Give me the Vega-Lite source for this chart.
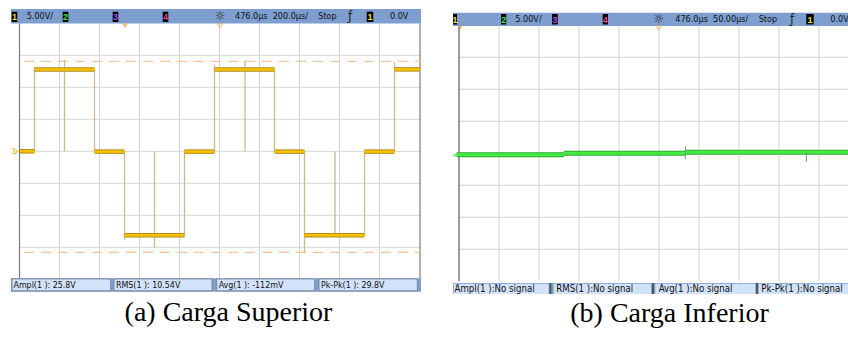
{
"$schema": "https://vega.github.io/schema/vega-lite/v6.json",
"padding": {"left": 10, "top": 9, "right": 0, "bottom": 0},
"spacing": 29,
"background": "white",
"config": {"view": {"stroke": null}},
"datasets": {
"L_bar": [{"t": -42.5, "t2": 2007.5, "v": 22.23, "v2": 19.97}, {"t": -42.5, "t2": 2007.5, "v": -19.84, "v2": -21.94}],
"L_box": [{"t": -37.5, "t2": 456, "v": -19.95, "v2": -21.8}, {"t": 472.5, "t2": 962.5, "v": -19.95, "v2": -21.8}, {"t": 986, "t2": 1476, "v": -19.95, "v2": -21.8}, {"t": 1497.5, "t2": 1989, "v": -19.95, "v2": -21.8}],
"L_vgrid": [{"t": 200, "v": 20, "v2": -20}, {"t": 400, "v": 20, "v2": -20}, {"t": 600, "v": 20, "v2": -20}, {"t": 800, "v": 20, "v2": -20}, {"t": 1000, "v": 20, "v2": -20}, {"t": 1200, "v": 20, "v2": -20}, {"t": 1400, "v": 20, "v2": -20}, {"t": 1600, "v": 20, "v2": -20}, {"t": 1800, "v": 20, "v2": -20}],
"L_hgrid": [{"t": 0, "t2": 2002.5, "v": 15}, {"t": 0, "t2": 2002.5, "v": 10}, {"t": 0, "t2": 2002.5, "v": 5}, {"t": 0, "t2": 2002.5, "v": 0}, {"t": 0, "t2": 2002.5, "v": -5}, {"t": 0, "t2": 2002.5, "v": -10}, {"t": 0, "t2": 2002.5, "v": -15}],
"L_border": [{"t": 0, "v": 20, "v2": -19.9}, {"t": 2002.5, "v": 20, "v2": -19.9}],
"L_dash": [{"t": 22.5, "t2": 2002.5, "v": 14.06}, {"t": 22.5, "t2": 2002.5, "v": -15.78}],
"L_edge": [{"t": 75, "v": 0, "v2": 13.2}, {"t": 225, "v": 0, "v2": 14.3}, {"t": 375, "v": 12.8, "v2": 0}, {"t": 525, "v": 0, "v2": -13.9}, {"t": 675, "v": 0, "v2": -15.0}, {"t": 825, "v": -13.1, "v2": 0}, {"t": 975, "v": 0, "v2": 13.5}, {"t": 1127.5, "v": 0, "v2": 14.2}, {"t": 1275, "v": 12.8, "v2": 0}, {"t": 1425, "v": 0, "v2": -15.8}, {"t": 1577.5, "v": -13.1, "v2": 0}, {"t": 1725, "v": -13.1, "v2": 0}, {"t": 1875, "v": 0, "v2": 14.0}],
"L_trace": [{"t": 2.5, "t2": 75, "v": 0}, {"t": 75, "t2": 375, "v": 12.8}, {"t": 375, "t2": 525, "v": -0.05}, {"t": 525, "t2": 825, "v": -13.1}, {"t": 825, "t2": 975, "v": -0.05}, {"t": 975, "t2": 1275, "v": 12.8}, {"t": 1275, "t2": 1425, "v": -0.05}, {"t": 1425, "t2": 1725, "v": -13.1}, {"t": 1725, "t2": 1875, "v": -0.05}, {"t": 1875, "t2": 2002, "v": 12.8}],
"L_chan": [{"t": -39, "t2": -11, "v": 21.81, "v2": 20.2}, {"t": 216, "t2": 244, "v": 21.81, "v2": 20.2}, {"t": 466, "t2": 494, "v": 21.81, "v2": 20.2}, {"t": 716, "t2": 744, "v": 21.81, "v2": 20.2}, {"t": 1736, "t2": 1769, "v": 21.81, "v2": 20.2}],
"L_chant": [{"t": -25, "v": 21.0, "s": "1", "c": "y"}, {"t": 230, "v": 21.0, "s": "2", "c": "g"}, {"t": 480, "v": 21.0, "s": "3", "c": "p"}, {"t": 730, "v": 21.0, "s": "4", "c": "r"}, {"t": 1752.5, "v": 21.0, "s": "1", "c": "y"}],
"L_top": [{"t": 36, "v": 21.1, "s": "5.00V/"}, {"t": 1077.5, "v": 21.1, "s": "476.0µs"}, {"t": 1266, "v": 21.1, "s": "200.0µs/"}, {"t": 1494, "v": 21.1, "s": "Stop"}, {"t": 1852.5, "v": 21.1, "s": "0.0V"}],
"L_sym": [{"t": 1002.5, "v": 21.1, "s": "☼"}, {"t": 1652.5, "v": 21.1, "s": "ƒ"}],
"L_bot": [{"t": -30, "v": -20.94, "s": "Ampl(1 ): 25.8V"}, {"t": 482.5, "v": -20.94, "s": "RMS(1 ): 10.54V"}, {"t": 996, "v": -20.94, "s": "Avg(1 ): -112mV"}, {"t": 1507.5, "v": -20.94, "s": "Pk-Pk(1 ): 29.8V"}],
"L_tri": [{"t": 527.5, "v": 19.6}],
"L_chev": [{"t": 1002.5, "v": 19.6}],
"L_gndt": [{"t": -26, "v": 0, "s": "1"}],
"L_gndp": [{"t": -9, "v": 0}],
"R_bar": [{"t": -7.5, "t2": 490, "v": 21.97, "v2": 19.89}, {"t": -7.5, "t2": 490, "v": -20.27, "v2": -21.98}],
"R_box": [{"t": -6.6, "t2": 112.1, "v": -20.4, "v2": -21.98}, {"t": 118.4, "t2": 240, "v": -20.4, "v2": -21.98}, {"t": 245.4, "t2": 370.4, "v": -20.4, "v2": -21.98}, {"t": 374.6, "t2": 490, "v": -20.4, "v2": -21.98}],
"R_sep": [{"t": 114.2, "v": -20.27, "v2": -21.98}, {"t": 242.5, "v": -20.27, "v2": -21.98}, {"t": 372.5, "v": -20.27, "v2": -21.98}],
"R_vgrid": [{"t": 50, "v": 20, "v2": -20}, {"t": 100, "v": 20, "v2": -20}, {"t": 150, "v": 20, "v2": -20}, {"t": 200, "v": 20, "v2": -20}, {"t": 250, "v": 20, "v2": -20}, {"t": 300, "v": 20, "v2": -20}, {"t": 350, "v": 20, "v2": -20}, {"t": 400, "v": 20, "v2": -20}, {"t": 450, "v": 20, "v2": -20}],
"R_hgrid": [{"t": 0, "t2": 490, "v": 15}, {"t": 0, "t2": 490, "v": 10}, {"t": 0, "t2": 490, "v": 5}, {"t": 0, "t2": 490, "v": 0}, {"t": 0, "t2": 490, "v": -5}, {"t": 0, "t2": 490, "v": -10}, {"t": 0, "t2": 490, "v": -15}],
"R_border": [{"t": 0, "v": 19.9, "v2": -20}],
"R_trace": [{"t": -3, "t2": 131, "v": -0.22}, {"t": 131, "t2": 283, "v": 0.0}, {"t": 283, "t2": 490, "v": 0.16}],
"R_spike": [{"t": 283, "v": 1.03, "v2": -0.89}, {"t": 434.2, "v": 0.16, "v2": -1.31}],
"R_chan": [{"t": -7.5, "t2": -2.5, "v": 21.77, "v2": 20.13}, {"t": 52.5, "t2": 59.1, "v": 21.77, "v2": 20.13}, {"t": 116.25, "t2": 123.4, "v": 21.77, "v2": 20.13}, {"t": 179.6, "t2": 186.25, "v": 21.77, "v2": 20.13}, {"t": 434.1, "t2": 443.4, "v": 21.77, "v2": 20.13}],
"R_chant": [{"t": -5, "v": 20.9, "s": "1", "c": "y"}, {"t": 55.8, "v": 20.9, "s": "2", "c": "g"}, {"t": 119.8, "v": 20.9, "s": "3", "c": "p"}, {"t": 182.9, "v": 20.9, "s": "4", "c": "r"}, {"t": 438.75, "v": 20.9, "s": "1", "c": "y"}],
"R_top": [{"t": 70.4, "v": 20.93, "s": "5.00V/"}, {"t": 270.4, "v": 20.93, "s": "476.0µs"}, {"t": 317.5, "v": 20.93, "s": "50.00µs/"}, {"t": 374.6, "v": 20.93, "s": "Stop"}, {"t": 464.1, "v": 20.93, "s": "0.0V"}],
"R_sym": [{"t": 249.6, "v": 20.93, "s": "☼"}, {"t": 416.25, "v": 20.93, "s": "ƒ"}],
"R_bot": [{"t": -5.6, "v": -21.13, "s": "Ampl(1 ):No signal"}, {"t": 121.6, "v": -21.13, "s": "RMS(1 ):No signal"}, {"t": 249.6, "v": -21.13, "s": "Avg(1 ):No signal"}, {"t": 377.9, "v": -21.13, "s": "Pk-Pk(1 ):No signal"}],
"R_tri": [{"t": 1.5, "v": 19.6}],
"R_chev": [{"t": 249.6, "v": 19.6}],
"R_gndp": [{"t": -4.5, "v": -0.3}]
},
"resolve": {"scale": {"x": "independent", "y": "independent"}},
"hconcat": [
{
"width": 411, "height": 285,
"title": {"text": "(a) Carga Superior", "orient": "bottom", "anchor": "middle", "frame": "group", "font": "Liberation Serif", "fontSize": 28, "fontWeight": "normal", "color": "#000000", "offset": 5, "dx": 13},
"encoding": {
"x": {"field": "t", "type": "quantitative", "scale": {"domain": [-47.5, 2007.5], "nice": false, "zero": false}, "axis": null},
"y": {"field": "v", "type": "quantitative", "scale": {"domain": [-22.297, 22.234], "nice": false, "zero": false}, "axis": null}
},
"layer": [
{"data": {"name": "L_vgrid"}, "mark": {"type": "rule", "color": "#d4d4d4", "strokeWidth": 1}, "encoding": {"y2": {"field": "v2"}}},
{"data": {"name": "L_hgrid"}, "mark": {"type": "rule", "color": "#d4d4d4", "strokeWidth": 1}, "encoding": {"x2": {"field": "t2"}}},
{"data": {"name": "L_border"}, "mark": {"type": "rule", "color": "#7a7a7a", "strokeWidth": 1.2}, "encoding": {"y2": {"field": "v2"}}},
{"data": {"name": "L_dash"}, "mark": {"type": "rule", "color": "#f7c49a", "strokeWidth": 1.2, "strokeDash": [10, 7]}, "encoding": {"x2": {"field": "t2"}}},
{"data": {"name": "L_edge"}, "mark": {"type": "rule", "color": "#c9bb8c", "strokeWidth": 1.3}, "encoding": {"y2": {"field": "v2"}}},
{"data": {"name": "L_trace"}, "mark": {"type": "rule", "color": "#b98c10", "strokeWidth": 4.5}, "encoding": {"x2": {"field": "t2"}}},
{"data": {"name": "L_trace"}, "mark": {"type": "rule", "color": "#f4c200", "strokeWidth": 2.5}, "encoding": {"x2": {"field": "t2"}}},
{"data": {"name": "L_bar"}, "mark": {"type": "rect", "color": "#7d9ecf"}, "encoding": {"x2": {"field": "t2"}, "y2": {"field": "v2"}}},
{"data": {"name": "L_box"}, "mark": {"type": "rect", "fill": "#d2e2f8", "stroke": "#6f7d92", "strokeWidth": 0.8}, "encoding": {"x2": {"field": "t2"}, "y2": {"field": "v2"}}},
{"data": {"name": "L_chan"}, "mark": {"type": "rect", "color": "#000000"}, "encoding": {"x2": {"field": "t2"}, "y2": {"field": "v2"}}},
{"data": {"name": "L_chant"}, "mark": {"type": "text", "font": "Liberation Sans", "fontSize": 9, "fontWeight": "bold", "align": "center", "baseline": "middle"}, "encoding": {"text": {"field": "s", "type": "nominal"}, "color": {"field": "c", "type": "nominal", "scale": {"domain": ["y", "g", "p", "r"], "range": ["#f2e21e", "#3cf03c", "#b848f0", "#f0408a"]}, "legend": null}}},
{"data": {"name": "L_top"}, "mark": {"type": "text", "font": "Liberation Sans Narrow, DejaVu Sans Condensed, Liberation Sans", "fontSize": 9, "color": "#111111", "align": "left", "baseline": "middle"}, "encoding": {"text": {"field": "s", "type": "nominal"}}},
{"data": {"name": "L_sym"}, "mark": {"type": "text", "font": "DejaVu Sans", "fontSize": 12, "color": "#222222", "align": "center", "baseline": "middle"}, "encoding": {"text": {"field": "s", "type": "nominal"}}},
{"data": {"name": "L_bot"}, "mark": {"type": "text", "font": "Liberation Sans Narrow, DejaVu Sans Condensed, Liberation Sans", "fontSize": 8.8, "color": "#111111", "align": "left", "baseline": "middle"}, "encoding": {"text": {"field": "s", "type": "nominal"}}},
{"data": {"name": "L_tri"}, "mark": {"type": "point", "shape": "triangle-down", "filled": true, "color": "#f09a30", "size": 30}},
{"data": {"name": "L_chev"}, "mark": {"type": "point", "shape": "triangle-down", "filled": false, "color": "#f0a040", "size": 25, "strokeWidth": 1}},
{"data": {"name": "L_gndt"}, "mark": {"type": "text", "font": "Liberation Sans", "fontSize": 9, "fontWeight": "bold", "color": "#f0c020", "align": "center", "baseline": "middle"}, "encoding": {"text": {"field": "s", "type": "nominal"}}},
{"data": {"name": "L_gndp"}, "mark": {"type": "point", "shape": "triangle-right", "filled": true, "color": "#f0c020", "size": 18}}
]
},
{
"width": 398, "height": 285,
"title": {"text": "(b) Carga Inferior", "orient": "bottom", "anchor": "middle", "frame": "group", "font": "Liberation Serif", "fontSize": 28, "fontWeight": "normal", "color": "#000000", "offset": 5, "dx": 17.5},
"encoding": {
"x": {"field": "t", "type": "quantitative", "scale": {"domain": [-7.5, 490], "nice": false, "zero": false}, "axis": null},
"y": {"field": "v", "type": "quantitative", "scale": {"domain": [-21.984, 22.547], "nice": false, "zero": false}, "axis": null}
},
"layer": [
{"data": {"name": "R_vgrid"}, "mark": {"type": "rule", "color": "#d4d4d4", "strokeWidth": 1}, "encoding": {"y2": {"field": "v2"}}},
{"data": {"name": "R_hgrid"}, "mark": {"type": "rule", "color": "#d4d4d4", "strokeWidth": 1}, "encoding": {"x2": {"field": "t2"}}},
{"data": {"name": "R_border"}, "mark": {"type": "rule", "color": "#9a9a9a", "strokeWidth": 2}, "encoding": {"y2": {"field": "v2"}}},
{"data": {"name": "R_trace"}, "mark": {"type": "rule", "color": "#2fa82f", "strokeWidth": 5}, "encoding": {"x2": {"field": "t2"}}},
{"data": {"name": "R_trace"}, "mark": {"type": "rule", "color": "#44ec44", "strokeWidth": 3}, "encoding": {"x2": {"field": "t2"}}},
{"data": {"name": "R_spike"}, "mark": {"type": "rule", "color": "#5aa05a", "strokeWidth": 1}, "encoding": {"y2": {"field": "v2"}}},
{"data": {"name": "R_bar"}, "mark": {"type": "rect", "color": "#7d9ecf"}, "encoding": {"x2": {"field": "t2"}, "y2": {"field": "v2"}}},
{"data": {"name": "R_box"}, "mark": {"type": "rect", "fill": "#d2e2f8"}, "encoding": {"x2": {"field": "t2"}, "y2": {"field": "v2"}}},
{"data": {"name": "R_sep"}, "mark": {"type": "rule", "color": "#555555", "strokeWidth": 2}, "encoding": {"y2": {"field": "v2"}}},
{"data": {"name": "R_chan"}, "mark": {"type": "rect", "color": "#000000"}, "encoding": {"x2": {"field": "t2"}, "y2": {"field": "v2"}}},
{"data": {"name": "R_chant"}, "mark": {"type": "text", "font": "Liberation Sans", "fontSize": 9, "fontWeight": "bold", "align": "center", "baseline": "middle"}, "encoding": {"text": {"field": "s", "type": "nominal"}, "color": {"field": "c", "type": "nominal", "scale": {"domain": ["y", "g", "p", "r"], "range": ["#f2e21e", "#3cf03c", "#b848f0", "#f0408a"]}, "legend": null}}},
{"data": {"name": "R_top"}, "mark": {"type": "text", "font": "Liberation Sans Narrow, DejaVu Sans Condensed, Liberation Sans", "fontSize": 9, "color": "#111111", "align": "left", "baseline": "middle"}, "encoding": {"text": {"field": "s", "type": "nominal"}}},
{"data": {"name": "R_sym"}, "mark": {"type": "text", "font": "DejaVu Sans", "fontSize": 12, "color": "#222222", "align": "center", "baseline": "middle"}, "encoding": {"text": {"field": "s", "type": "nominal"}}},
{"data": {"name": "R_bot"}, "mark": {"type": "text", "font": "Liberation Sans Narrow, DejaVu Sans Condensed, Liberation Sans", "fontSize": 9.6, "color": "#111111", "align": "left", "baseline": "middle"}, "encoding": {"text": {"field": "s", "type": "nominal"}}},
{"data": {"name": "R_tri"}, "mark": {"type": "point", "shape": "triangle-down", "filled": true, "color": "#f09a30", "size": 22}},
{"data": {"name": "R_chev"}, "mark": {"type": "point", "shape": "triangle-down", "filled": false, "color": "#f0a040", "size": 25, "strokeWidth": 1}},
{"data": {"name": "R_gndp"}, "mark": {"type": "point", "shape": "triangle-right", "filled": true, "color": "#40e040", "size": 18}}
]
}
]
}
